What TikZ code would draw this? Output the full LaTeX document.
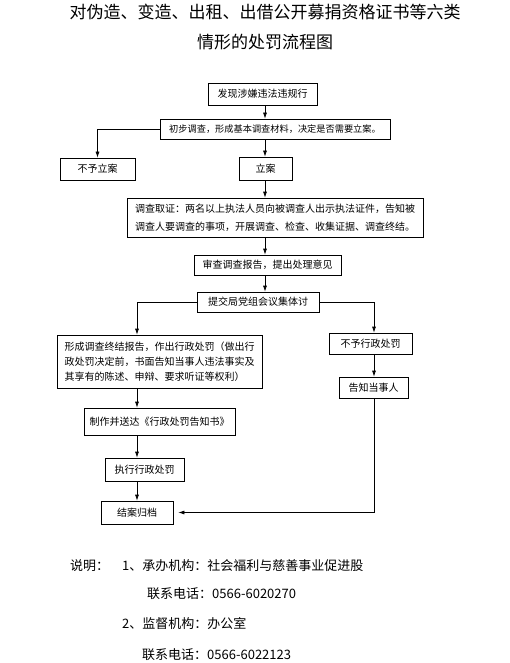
\documentclass[tikz,border=0pt]{standalone}
\usepackage{fontspec}
\setmainfont{Noto Sans CJK SC}
\usetikzlibrary{arrows.meta,positioning}

\begin{document}
\begin{tikzpicture}[x=1pt,y=-1pt,>={Latex[length=6pt,width=4pt]},
  box/.style={draw,line width=0.7pt,inner sep=0pt,align=center,font=\fontsize{10}{13}\selectfont},
  note/.style={anchor=base west,inner sep=0pt,font=\fontsize{13}{15}\selectfont},
  conn/.style={->,line width=0.7pt}]
  \useasboundingbox (0,0) rectangle (510,663);
  \node[align=center,font=\fontsize{17}{30}\selectfont] (title) at (265,27) {对伪造、变造、出租、出借公开募捐资格证书等六类\\情形的处罚流程图};
  \node[box,minimum width=109pt,minimum height=22pt] (find) at (262.5,94) {发现涉嫌违法违规行};
  \node[box,minimum width=230pt,minimum height=20pt,font=\fontsize{9.2}{12}\selectfont] (prelim) at (275,129) {初步调查，形成基本调查材料，决定是否需要立案。};
  \node[box,minimum width=75pt,minimum height=22pt] (nocase) at (97.5,169) {不予立案};
  \node[box,minimum width=53pt,minimum height=23pt] (filecase) at (265.5,168.5) {立案};
  \node[box,align=left,minimum width=296pt,minimum height=39pt,font=\fontsize{10}{18}\selectfont] (evidence) at (275,217.5) {调查取证：两名以上执法人员向被调查人出示执法证件，告知被\\调查人要调查的事项，开展调查、检查、收集证据、调查终结。};
  \node[box,minimum width=147pt,minimum height=20pt] (review) at (267.5,265) {审查调查报告，提出处理意见};
  \node[box,minimum width=122pt,minimum height=20pt] (discuss) at (258,302) {提交局党组会议集体讨};
  \node[box,align=left,minimum width=205pt,minimum height=53pt,font=\fontsize{10}{15}\selectfont] (report) at (159.5,361.5) {形成调查终结报告，作出行政处罚（做出行\\政处罚决定前，书面告知当事人违法事实及\\其享有的陈述、申辩、要求听证等权利）};
  \node[box,minimum width=83pt,minimum height=21pt] (nopunish) at (370.5,343.5) {不予行政处罚};
  \node[box,minimum width=69pt,minimum height=21pt] (notify) at (373.5,387.5) {告知当事人};
  \node[box,minimum width=151pt,minimum height=27pt] (serve) at (159.5,421.5) {制作并送达《行政处罚告知书》};
  \node[box,minimum width=79pt,minimum height=23pt] (execute) at (144.5,469.5) {执行行政处罚};
  \node[box,minimum width=72pt,minimum height=23pt] (archive) at (137,512.5) {结案归档};
  \coordinate (col) at (265,0);
  \coordinate (lcol) at (137,0);
  \coordinate (rcol) at (374,0);
  \draw[conn] (col |- find.south) -- (col |- prelim.north);
  \draw[conn] (prelim.west) -| (nocase.north);
  \draw[conn] (col |- prelim.south) -- (col |- filecase.north);
  \draw[conn] (col |- filecase.south) -- (col |- evidence.north);
  \draw[conn] (col |- evidence.south) -- (col |- review.north);
  \draw[conn] (col |- review.south) -- (col |- discuss.north);
  \draw[conn] (discuss.west) -| (lcol |- report.north);
  \draw[conn] (discuss.east) -| (rcol |- nopunish.north);
  \draw[conn] (rcol |- nopunish.south) -- (rcol |- notify.north);
  \draw[conn] (lcol |- report.south) -- (lcol |- serve.north);
  \draw[conn] (lcol |- serve.south) -- (lcol |- execute.north);
  \draw[conn] (lcol |- execute.south) -- (archive.north);
  \draw[conn,shorten >=5pt] (rcol |- notify.south) |- (archive.east);
  \node[note] (lbl) at (70,570) {说明：};
  \node[note] (org) at (122,570) {1、承办机构：社会福利与慈善事业促进股};
  \node[note] (tel1) at (147,598) {联系电话：0566-6020270};
  \node[note] (sup) at (122,628) {2、监督机构：办公室};
  \node[note] (tel2) at (142,659) {联系电话：0566-6022123};
\end{tikzpicture}
\end{document}
